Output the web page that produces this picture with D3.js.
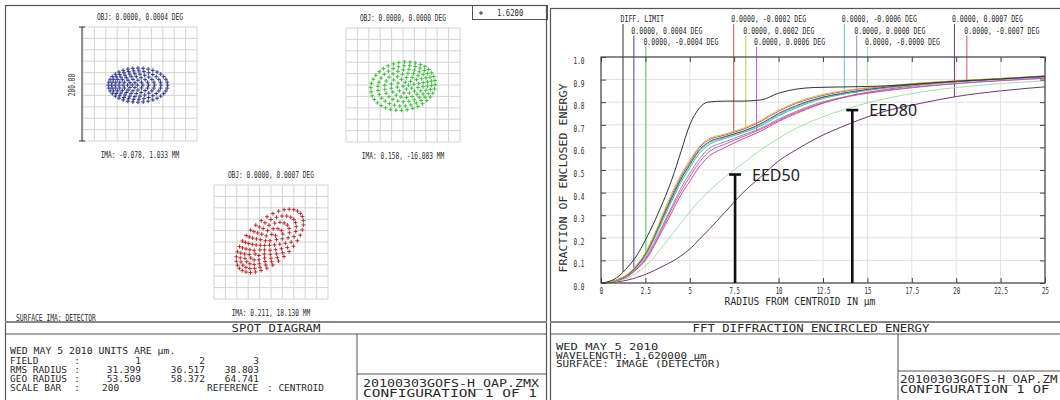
<!DOCTYPE html>
<html>
<head>
<meta charset="utf-8">
<script src="https://cdn.jsdelivr.net/npm/d3@7"></script>
<style>
body { margin: 0; background: #fff; }
text { font-family: "DejaVu Sans Mono", monospace; fill: #2a2a2a; }
</style>
</head>
<body>
<svg id="chart"></svg>
<script>
// ---- encircled energy (radius in microns) ----
var radius = [0, 0.5, 1, 1.5, 2, 2.5, 3, 3.5, 4, 4.5, 5, 5.5, 6, 7, 8, 9, 10, 11, 12, 14, 16, 18, 20, 22.5, 25];

var eeDiff  = [0, .008, .03, .07, .12, .19, .27, .36, .46, .58, .70, .77, .80, .805, .805, .81, .84, .858, .865, .868, .872, .882, .893, .903, .915];
var ee0004  = [0, .004, .016, .036, .073, .127, .205, .295, .38, .46, .525, .585, .62, .648, .672, .705, .75, .785, .812, .845, .866, .881, .892, .903, .913];
var eeM0004 = [0, .004, .015, .034, .07, .12, .195, .28, .365, .445, .51, .57, .607, .64, .665, .695, .74, .775, .805, .84, .862, .878, .89, .902, .912];
var eeM0002 = [0, .005, .017, .038, .077, .13, .21, .30, .39, .47, .535, .595, .63, .655, .68, .715, .76, .795, .82, .852, .87, .884, .894, .905, .916];
var ee0002  = [0, .005, .018, .04, .08, .135, .215, .31, .40, .48, .545, .60, .635, .66, .685, .72, .765, .80, .825, .855, .872, .885, .895, .905, .915];
var ee0006  = [0, .004, .014, .03, .062, .105, .17, .25, .33, .405, .47, .53, .575, .615, .648, .68, .72, .755, .785, .826, .85, .868, .882, .895, .906];
var eeM0006 = [0, .004, .016, .036, .072, .125, .2, .29, .375, .455, .52, .58, .615, .645, .67, .70, .745, .78, .81, .843, .865, .88, .892, .903, .913];
var ee0000  = [0, .004, .014, .032, .065, .11, .18, .26, .34, .42, .485, .545, .59, .625, .655, .685, .725, .76, .79, .828, .852, .87, .883, .896, .907];
var eeM0000 = [0, .003, .01, .022, .045, .075, .115, .165, .215, .265, .315, .36, .40, .47, .53, .59, .64, .685, .72, .775, .815, .845, .865, .882, .895];
var ee0007  = [0, .002, .006, .013, .024, .038, .055, .075, .095, .12, .15, .19, .23, .315, .40, .47, .54, .59, .635, .705, .76, .795, .825, .85, .868];
var eeM0007 = [0, .003, .013, .029, .06, .10, .165, .24, .315, .39, .45, .51, .555, .60, .638, .672, .715, .75, .782, .828, .856, .876, .89, .903, .915];

var eeNames = ["DIFF. LIMIT", "0.0000, 0.0004 DEG", "0.0000, -0.0004 DEG",
               "0.0000, -0.0002 DEG", "0.0000, 0.0002 DEG", "0.0000, 0.0006 DEG",
               "0.0000, -0.0006 DEG", "0.0000, 0.0000 DEG", "0.0000, -0.0000 DEG",
               "0.0000, 0.0007 DEG", "0.0000, -0.0007 DEG"];
var eeValues = [eeDiff, ee0004, eeM0004, eeM0002, ee0002, ee0006, eeM0006, ee0000, eeM0000, ee0007, eeM0007];
var eeColors = ["#333333", "#4646a6", "#55c855", "#cc5656", "#c8c846", "#c856c8",
                "#56c8c8", "#9a88bc", "#a8dca8", "#6a3a6a", "#d84a8a"];
// radius where each legend line drops onto its curve
var legendR = [1.24, 1.85, 2.53, 7.47, 8.15, 8.76, 13.7, 14.4, 15.0, 19.9, 20.6];

var radiusTicks = [0, 2.5, 5, 7.5, 10, 12.5, 15, 17.5, 20, 22.5, 25];
var fractionTicks = [0, .1, .2, .3, .4, .5, .6, .7, .8, .9, 1];

var eedLabels = ["EED50", "EED80"];
var eedR = [7.55, 14.15];
var eedV = [0.48, 0.765];

// ---- spot diagram (microns) ----
var spotObj = ["OBJ: 0.0000, 0.0004 DEG", "OBJ: 0.0000, 0.0000 DEG", "OBJ: 0.0000, 0.0007 DEG"];
var spotIma = ["IMA: -0.078, 1.033 MM", "IMA: 0.158, -16.083 MM", "IMA: 0.211, 18.130 MM"];
var spotA = [52, 57, 72];        // semi axis along major direction
var spotB = [30, 42, 37];        // semi axis along minor direction
var spotRot = [0, -10, -42];     // degrees
var spotShift = [10, -10, 12];   // inner ring shift
var spotDx = [-3.5, 0, -2];
var spotDy = [2, 2, -2];
var spotColors = ["#232a86", "#2dbb2d", "#b51c1c"];
var pupilRings = [1, 6, 12, 18, 24, 30, 36];
var rmsRadius = ["31.399", "36.517", "38.803"];
var geoRadius = ["53.509", "58.372", "64.741"];
var scaleBar = 200;

var svg = d3.select("#chart").attr("width", 1060).attr("height", 400);
svg.append("rect").attr("width", 1060).attr("height", 400).attr("fill", "#fff");

function txt(g, x, y, s, size, cw, anchor) {
  var t = g.append("text")
    .attr("x", x)
    .attr("y", y + size * 0.36)
    .attr("font-size", size)
    .attr("text-anchor", anchor || "start")
    .text(s);
  if (cw) t.attr("textLength", s.length * cw).attr("lengthAdjust", "spacingAndGlyphs");
  return t;
}

function hline(x1, x2, y, w, c) {
  svg.append("line").attr("x1", x1).attr("x2", x2).attr("y1", y).attr("y2", y)
     .attr("stroke", c || "#555").attr("stroke-width", w || 1);
}
function vline(x, y1, y2, w, c) {
  svg.append("line").attr("x1", x).attr("x2", x).attr("y1", y1).attr("y2", y2)
     .attr("stroke", c || "#555").attr("stroke-width", w || 1);
}

// ================= LEFT PANEL: SPOT DIAGRAM =================
svg.append("rect").attr("x", 5.5).attr("y", 5.5).attr("width", 541).attr("height", 400)
   .attr("fill", "none").attr("stroke", "#555").attr("stroke-width", 1.2);

var gridPos = [[83, 27], [346, 28], [214, 185]];
var gridSize = 114;

gridPos.forEach(function(p, f) {
  var sx = d3.scaleLinear().domain([-scaleBar / 2, scaleBar / 2]).range([p[0], p[0] + gridSize]);
  var sy = d3.scaleLinear().domain([-scaleBar / 2, scaleBar / 2]).range([p[1], p[1] + gridSize]);
  var g = svg.append("g");
  var gt = d3.range(-100, 101, 20);
  g.selectAll(".gv").data(gt).enter().append("line")
    .attr("x1", function(d) { return sx(d); }).attr("x2", function(d) { return sx(d); })
    .attr("y1", sy(-100)).attr("y2", sy(100))
    .attr("stroke", "#d4d4d4").attr("stroke-width", 1);
  g.selectAll(".gh").data(gt).enter().append("line")
    .attr("y1", function(d) { return sy(d); }).attr("y2", function(d) { return sy(d); })
    .attr("x1", sx(-100)).attr("x2", sx(100))
    .attr("stroke", "#d4d4d4").attr("stroke-width", 1);

  // hexapolar pupil rays mapped onto the image plane
  var pts = [];
  var n = pupilRings.length - 1;
  pupilRings.forEach(function(cnt, k) {
    var rho = k / n;
    for (var j = 0; j < cnt; j++) {
      var th = 2 * Math.PI * j / cnt;
      var u = spotA[f] * rho * Math.cos(th) + spotShift[f] * (rho * rho - 1);
      var v = spotB[f] * rho * Math.sin(th);
      var a = spotRot[f] * Math.PI / 180;
      pts.push([spotDx[f] + u * Math.cos(a) - v * Math.sin(a),
                spotDy[f] + u * Math.sin(a) + v * Math.cos(a)]);
    }
  });
  var cross = "M-2,0H2M0,-2V2";
  g.selectAll(".pt").data(pts).enter().append("path")
    .attr("d", cross)
    .attr("transform", function(d) { return "translate(" + sx(d[0]) + "," + sy(d[1]) + ")"; })
    .attr("stroke", spotColors[f]).attr("stroke-width", 0.9).attr("fill", "none");

  txt(svg, p[0] + gridSize / 2, p[1] - 10, spotObj[f], 8, 3.75, "middle");
  txt(svg, p[0] + gridSize / 2, p[1] + gridSize + 14, spotIma[f], 8, 3.75, "middle");

  if (f === 0) {
    vline(p[0] - 1, sy(-100), sy(100), 1, "#333");
    hline(p[0] - 4, p[0] + 2, sy(-100), 1, "#333");
    hline(p[0] - 4, p[0] + 2, sy(100), 1, "#333");
    txt(svg, 0, 0, "200.00", 8, 3.75, "middle")
      .attr("transform", "translate(" + (p[0] - 11) + "," + (p[1] + 58) + ") rotate(-90)");
  }
});

// wavelength box
svg.append("rect").attr("x", 472.5).attr("y", 5.5).attr("width", 75).attr("height", 14)
   .attr("fill", "none").attr("stroke", "#555");
svg.append("path").attr("d", "M-2,0H2M0,-2V2").attr("transform", "translate(481,13)")
   .attr("stroke", "#333").attr("fill", "none");
txt(svg, 497, 13, "1.6200", 9, 4.4);

txt(svg, 16, 318, "SURFACE IMA: DETECTOR", 8, 3.8);

hline(5, 547, 322, 2, "#888");
txt(svg, 276, 328, "SPOT DIAGRAM", 11, 7.4, "middle");
hline(5, 547, 334, 1, "#555");
vline(357, 334, 400, 1, "#555");
hline(357, 547, 374, 1, "#555");

var bx = 10, bs = 9, bw = 5.7;
var rowsL = [351, 360.5, 369.5, 378.5, 388];
txt(svg, bx, rowsL[0], "WED MAY 5 2010  UNITS ARE \u00b5m.", bs, bw);
txt(svg, bx, rowsL[1], "FIELD", bs, bw);
txt(svg, bx, rowsL[2], "RMS RADIUS", bs, bw);
txt(svg, bx, rowsL[3], "GEO RADIUS", bs, bw);
txt(svg, bx, rowsL[4], "SCALE BAR", bs, bw);
rowsL.slice(1).forEach(function(y) { txt(svg, 77, y, ":", bs, bw, "middle"); });
var colX = [141, 205, 259];
colX.forEach(function(x, i) {
  txt(svg, x, rowsL[1], String(i + 1), bs, bw, "end");
  txt(svg, x, rowsL[2], rmsRadius[i], bs, bw, "end");
  txt(svg, x, rowsL[3], geoRadius[i], bs, bw, "end");
});
txt(svg, 102, rowsL[4], String(scaleBar), bs, bw);
txt(svg, 207, rowsL[4], "REFERENCE", bs, bw);
txt(svg, 267, rowsL[4], ": CENTROID", bs, bw);

txt(svg, 363, 383, "20100303GOFS-H_OAP.ZMX", 10.5, 8.0);
txt(svg, 363, 393, "CONFIGURATION 1 OF 1", 10.5, 8.7);

// ================= RIGHT PANEL: ENCIRCLED ENERGY =================
svg.append("rect").attr("x", 550.5).attr("y", 8.5).attr("width", 520).attr("height", 400)
   .attr("fill", "none").attr("stroke", "#555").attr("stroke-width", 1.2);

var ex = d3.scaleLinear().domain([0, 25]).range([601, 1045]);
var ey = d3.scaleLinear().domain([0, 1]).range([283, 57]);

var grid = svg.append("g");
grid.selectAll(".vx").data(radiusTicks).enter().append("line")
  .attr("x1", function(d) { return ex(d); }).attr("x2", function(d) { return ex(d); })
  .attr("y1", ey(0)).attr("y2", ey(1)).attr("stroke", "#e2e2e2");
grid.selectAll(".hy").data(fractionTicks).enter().append("line")
  .attr("y1", function(d) { return ey(d); }).attr("y2", function(d) { return ey(d); })
  .attr("x1", ex(0)).attr("x2", ex(25)).attr("stroke", "#e2e2e2");

var line = d3.line()
  .x(function(d, i) { return ex(radius[i]); })
  .y(function(d) { return ey(d); })
  .curve(d3.curveMonotoneX);

function valueAt(vals, r) {
  var i = d3.bisectRight(radius, r) - 1;
  if (i >= radius.length - 1) return vals[vals.length - 1];
  var t = (r - radius[i]) / (radius[i + 1] - radius[i]);
  return vals[i] + t * (vals[i + 1] - vals[i]);
}

// legend lines and labels
var rowY = [19, 30.5, 42];
eeNames.forEach(function(name, i) {
  var lx = ex(legendR[i]);
  var ry = rowY[i % 3];
  vline(lx, ry + 5, ey(valueAt(eeValues[i], legendR[i])), 1, eeColors[i]);
  txt(svg, lx - 2.5, ry, name, 9, 3.95);
});

// curves: draw lower ones first, bundle on top
var order = [9, 8, 7, 5, 10, 2, 6, 1, 3, 4, 0];
order.forEach(function(i) {
  svg.append("path").datum(eeValues[i])
    .attr("d", line)
    .attr("fill", "none")
    .attr("stroke", eeColors[i])
    .attr("stroke-width", 1);
});

// axes with inward ticks
var ax = svg.append("g").attr("transform", "translate(0,283)")
  .call(d3.axisBottom(ex).tickValues(radiusTicks).tickSize(-5).tickFormat(d3.format("")));
ax.selectAll(".tick text").attr("font-size", 8).attr("y", 5)
  .each(function() {
    var s = d3.select(this).text();
    d3.select(this).attr("textLength", s.length * 3.4).attr("lengthAdjust", "spacingAndGlyphs");
  });
var ay = svg.append("g").attr("transform", "translate(601,0)")
  .call(d3.axisLeft(ey).tickValues(fractionTicks).tickSize(-5).tickFormat(d3.format(".1f")));
ay.selectAll(".tick text").attr("font-size", 8).attr("x", -22).attr("y", 4)
  .attr("text-anchor", "middle").attr("textLength", 11).attr("lengthAdjust", "spacingAndGlyphs");
var at = svg.append("g").attr("transform", "translate(0,57)")
  .call(d3.axisTop(ex).tickValues(radiusTicks).tickSize(-5).tickFormat(""));
var ar = svg.append("g").attr("transform", "translate(1045,0)")
  .call(d3.axisRight(ey).tickValues(fractionTicks).tickSize(-5).tickFormat(""));
[ax, ay, at, ar].forEach(function(a) {
  a.select(".domain").remove();
  a.selectAll(".tick line").attr("stroke", "#444");
});

svg.append("rect").attr("x", ex(0)).attr("y", ey(1))
  .attr("width", ex(25) - ex(0)).attr("height", ey(0) - ey(1))
  .attr("fill", "none").attr("stroke", "#444").attr("stroke-width", 1.2);

// EED markers
eedLabels.forEach(function(lab, i) {
  var x = ex(eedR[i]);
  vline(x, ey(0), ey(eedV[i]), 2.6, "#111");
  hline(x - 6, x + 6, ey(eedV[i]), 2.6, "#111");
  svg.append("text").attr("x", x + 17).attr("y", ey(eedV[i]) + 6)
    .style("font-family", "'Noto Sans', sans-serif").style("fill", "#222")
    .attr("font-size", 16).text(lab);
});

txt(svg, 0, 0, "FRACTION OF ENCLOSED ENERGY", 11, 7.0, "middle")
  .attr("transform", "translate(563,178) rotate(-90)");
txt(svg, 800, 301, "RADIUS FROM CENTROID IN \u00b5m", 10, 5.8, "middle");

hline(550, 1060, 322, 2, "#888");
txt(svg, 811, 328, "FFT DIFFRACTION ENCIRCLED ENERGY", 11, 7.4, "middle");
hline(550, 1060, 334, 1, "#555");
vline(898, 334, 400, 1, "#555");
hline(898, 1060, 371, 1, "#555");

var rowsR = [347, 355.5, 364];
txt(svg, 556, rowsR[0], "WED MAY 5 2010", 9, 7.3);
txt(svg, 556, rowsR[1], "WAVELENGTH: 1.620000 \u00b5m", 9, 6.55);
txt(svg, 556, rowsR[2], "SURFACE: IMAGE (DETECTOR)", 9, 6.6);

// the right edge of this panel is cut by the window, only the visible part is written
txt(svg, 900, 379, "20100303GOFS-H_OAP.ZM", 10.5, 7.5);
txt(svg, 900, 389, "CONFIGURATION 1 OF", 10.5, 8.3);
</script>
</body>
</html>
